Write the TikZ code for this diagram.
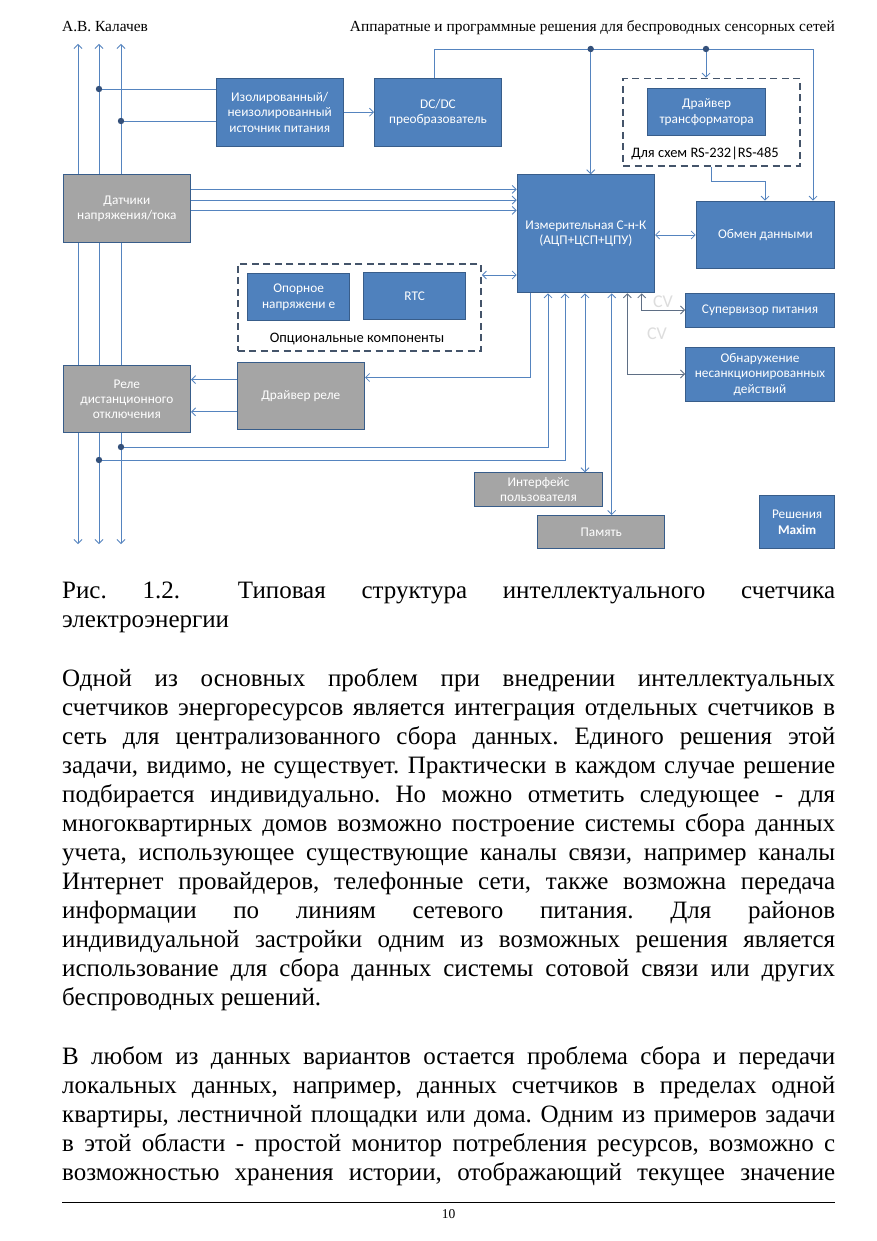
\documentclass[tikz,border=0pt]{standalone}
\usepackage{fontspec}
\setmainfont{Liberation Serif}
\newfontfamily\diafont{Carlito}
\usetikzlibrary{arrows.meta}
\frenchspacing
\definecolor{boxblue}{HTML}{4F81BD}
\definecolor{boxedge}{HTML}{385D8A}
\definecolor{boxgray}{HTML}{A5A5A5}
\definecolor{wirec}{HTML}{5584BF}
\definecolor{dwirec}{HTML}{5F6F85}
\definecolor{dotc}{HTML}{34507A}
\definecolor{dashc}{HTML}{44546A}
\definecolor{ghost}{HTML}{DDDDDD}
\tikzset{
  blk/.style={draw=boxedge, line width=1pt, fill=boxblue, text=white,
    font=\diafont\fontsize{13.3}{15.3}\selectfont, align=center, inner sep=0pt,
    anchor=north west},
  gblk/.style={blk, fill=boxgray},
  dbox/.style={draw=dashc, line width=1.8pt, dash pattern=on 7pt off 4.5pt,
    inner sep=0pt, anchor=north west},
  lbl/.style={font=\diafont\fontsize{14.5}{17}\selectfont, text=black, inner sep=0pt},
  wire/.style={draw=wirec, line width=0.85pt, >={Straight Barb[length=4pt,width=8pt]}},
  dwire/.style={draw=dwirec, line width=0.85pt, >={Straight Barb[length=4pt,width=8pt]}},
  jdot/.style={fill=dotc},
  tline/.style={anchor=base west, inner sep=0pt, font=\fontsize{25}{29}\selectfont},
  hdr/.style={inner sep=0pt, font=\fontsize{15.4}{18}\selectfont},
}
\newcommand{\jl}[1]{\makebox[773pt][s]{#1}}
\begin{document}
\begin{tikzpicture}[x=1pt,y=-1pt]
\useasboundingbox (0,0) rectangle (877,1241);
\fill[white] (0,0) rectangle (877,1241);

% header
\node[hdr, anchor=base west] (hl) at (62,32) {А.В. Калачев};
\node[hdr, anchor=base east] (hr) at (835,32) {Аппаратные и программные решения для беспроводных сенсорных сетей};

% bus coordinates
\coordinate (t1) at (78,44);  \coordinate (b1) at (78,544);
\coordinate (t2) at (99,44);  \coordinate (b2) at (99,544);
\coordinate (t3) at (121,44); \coordinate (b3) at (121,544);
\draw[wire,<->] (t1) -- (b1);
\draw[wire,<->] (t2) -- (b2);
\draw[wire,<->] (t3) -- (b3);

% junctions
\coordinate (j1) at (99,89);
\coordinate (j2) at (121,121);
\coordinate (j3) at (121,447);
\coordinate (j4) at (99,460);
\coordinate (j5) at (590.7,49);
\coordinate (j6) at (706,49);
\coordinate (cr) at (813,49);
\coordinate (rsk) at (765,181.7);
\coordinate (k1) at (530,377.5);
\coordinate (k2) at (548,447);
\coordinate (k3) at (565,460);
\coordinate (k4) at (585,400);
\coordinate (k5) at (611.7,400);
\coordinate (k6) at (627.3,374);
\coordinate (k7) at (641.7,310);

% boxes
\node[blk, minimum width=127pt, minimum height=68pt] (izol) at (215.7,77.7) {Изолированный/\\неизолированный\\источник питания};
\node[blk, minimum width=127pt, minimum height=68pt] (dcdc) at (374,77.7) {DC/DC\\преобразователь};
\node[dbox, minimum width=177pt, minimum height=87.3pt] (rsbox) at (622.3,77.7) {};
\node[blk, minimum width=117.7pt, minimum height=46.7pt] (drtr) at (647.3,88.3) {Драйвер\\трансформатора};
\node[lbl] (rslbl) at (705,153.5) {Для схем RS-232|RS-485};
\node[gblk, minimum width=127.3pt, minimum height=68.3pt] (dat) at (62.7,174) {Датчики\\напряжения/тока};
\node[blk, minimum width=137.3pt, minimum height=118pt] (izm) at (516.7,174.3) {Измерительная С-н-К\\(АЦП+ЦСП+ЦПУ)};
\node[blk, minimum width=138.3pt, minimum height=67.6pt] (obmen) at (695.7,200.7) {Обмен данными};
\node[dbox, minimum width=243.3pt, minimum height=86.7pt] (optbox) at (236.7,263.3) {};
\node[blk, minimum width=101.7pt, minimum height=46.7pt] (opor) at (247.3,273.3) {Опорное\\напряжени е};
\node[blk, minimum width=101.7pt, minimum height=47.3pt] (rtc) at (363.3,271.7) {RTC};
\node[lbl] (optlbl) at (357,339) {Опциональные компоненты};
\node[blk, minimum width=149pt, minimum height=34pt] (super) at (685,292.7) {Супервизор питания};
\node[blk, minimum width=149pt, minimum height=53.4pt] (obn) at (685,347.3) {Обнаружение\\несанкционированных\\действий};
\node[gblk, minimum width=127.3pt, minimum height=67.3pt] (rele) at (62.7,365) {Реле\\дистанционного\\отключения};
\node[gblk, minimum width=127.3pt, minimum height=67.3pt] (drel) at (236.7,361.7) {Драйвер реле};
\node[gblk, minimum width=127.4pt, minimum height=33.7pt] (intf) at (474.3,472.3) {Интерфейс\\пользователя};
\node[gblk, minimum width=127pt, minimum height=33.3pt] (pam) at (537.3,515) {Память};
\node[blk, minimum width=74.7pt, minimum height=53.3pt] (maxim) at (759.3,495) {Решения\\\textbf{Maxim}};
\node[font=\diafont\fontsize{18}{20}\selectfont, text=ghost, inner sep=0pt] (cv1) at (663,302) {CV};
\node[font=\diafont\fontsize{18}{20}\selectfont, text=ghost, inner sep=0pt] (cv2) at (657,334) {CV};

% connectors
\draw[wire] (j1) -- (j1 -| izol.west);
\draw[wire] (j2) -- (j2 -| izol.west);
\draw[wire,->] (izol.east) -- (dcdc.west);
\draw[wire,->] ([xshift=-4pt]dcdc.north) |- (cr) -- (cr |- obmen.north);
\draw[wire,->] (j5) -- (j5 |- izm.north);
\draw[wire,->] (j6) -- (j6 |- rsbox.north);
\draw[wire,->] (rsbox.south) |- (rsk) -- (rsk |- obmen.north);
\draw[wire,->] ([yshift=19.2pt]dat.east) -- ([yshift=19.2pt]dat.east -| izm.west);
\draw[wire,->] ([yshift=8.6pt]dat.east) -- ([yshift=8.6pt]dat.east -| izm.west);
\draw[wire,->] ([yshift=-1.8pt]dat.east) -- ([yshift=-1.8pt]dat.east -| izm.west);
\draw[wire,<->] (izm.east |- obmen.west) -- (obmen.west);
\draw[wire,<->] ([yshift=-11.7pt]optbox.north east) -- ([yshift=-11.7pt]optbox.north east -| izm.west);
\draw[wire,->] (k1 |- izm.south) -- (k1) -- (k1 -| drel.east);
\draw[wire,->] (j3) -- (k2) -- (k2 |- izm.south);
\draw[wire,->] (j4) -- (k3) -- (k3 |- izm.south);
\draw[wire,<->] (k4 |- izm.south) -- (k4 |- intf.north);
\draw[wire,<->] (k5 |- izm.south) -- (k5 |- pam.north);
\draw[dwire,<->] (k6 |- izm.south) -- (k6) -- (k6 -| obn.west);
\draw[dwire,<->] (k7 |- izm.south) -- (k7) -- (k7 -| super.west);
\draw[wire,->] ([yshift=16.3pt]drel.west) -- ([yshift=16.3pt]drel.west -| rele.east);
\draw[wire,->] ([yshift=-16pt]drel.west) -- ([yshift=-16pt]drel.west -| rele.east);

\foreach \j in {j1,j2,j3,j4,j5,j6} \fill[jdot] (\j) circle (3.2pt);

% caption
\node[tline] (c1) at (62,598) {\jl{Рис. 1.2.\hspace{22pt} Типовая структура интеллектуального счетчика}};
\node[tline] (c2) at (62,627.5) {электроэнергии};

% paragraph 1
\node[tline] (p1) at (62,686.5) {\jl{Одной из основных проблем при внедрении интеллектуальных}};
\node[tline] (p2) at (62,715.5) {\jl{счетчиков энергоресурсов является интеграция отдельных счетчиков в}};
\node[tline] (p3) at (62,744.5) {\jl{сеть для централизованного сбора данных. Единого решения этой}};
\node[tline] (p4) at (62,773.5) {\jl{задачи, видимо, не существует. Практически в каждом случае решение}};
\node[tline] (p5) at (62,802.5) {\jl{подбирается индивидуально. Но можно отметить следующее - для}};
\node[tline] (p6) at (62,831.5) {\jl{многоквартирных домов возможно построение системы сбора данных}};
\node[tline] (p7) at (62,860.5) {\jl{учета, использующее существующие каналы связи, например каналы}};
\node[tline] (p8) at (62,889.5) {\jl{Интернет провайдеров, телефонные сети, также возможна передача}};
\node[tline] (p9) at (62,918.5) {\jl{информации по линиям сетевого питания. Для районов}};
\node[tline] (p10) at (62,947.5) {\jl{индивидуальной застройки одним из возможных решения является}};
\node[tline] (p11) at (62,976.5) {\jl{использование для сбора данных системы сотовой связи или других}};
\node[tline] (p12) at (62,1005.5) {беспроводных решений.};

% paragraph 2
\node[tline] (q1) at (62,1064.5) {\jl{В любом из данных вариантов остается проблема сбора и передачи}};
\node[tline] (q2) at (62,1093.5) {\jl{локальных данных, например, данных счетчиков в пределах одной}};
\node[tline] (q3) at (62,1122.5) {\jl{квартиры, лестничной площадки или дома. Одним из примеров задачи}};
\node[tline] (q4) at (62,1151.5) {\jl{в этой области - простой монитор потребления ресурсов, возможно с}};
\node[tline] (q5) at (62,1180.5) {\jl{возможностью хранения истории, отображающий текущее значение}};

% footer
\coordinate (fl) at (62,1202.5);
\coordinate (fr) at (835,1202.5);
\draw[line width=1pt] (fl) -- (fr);
\node[inner sep=0pt, font=\fontsize{13.5}{16}\selectfont, anchor=base] (pg) at (448.5,1218.3) {10};
\end{tikzpicture}
\end{document}
